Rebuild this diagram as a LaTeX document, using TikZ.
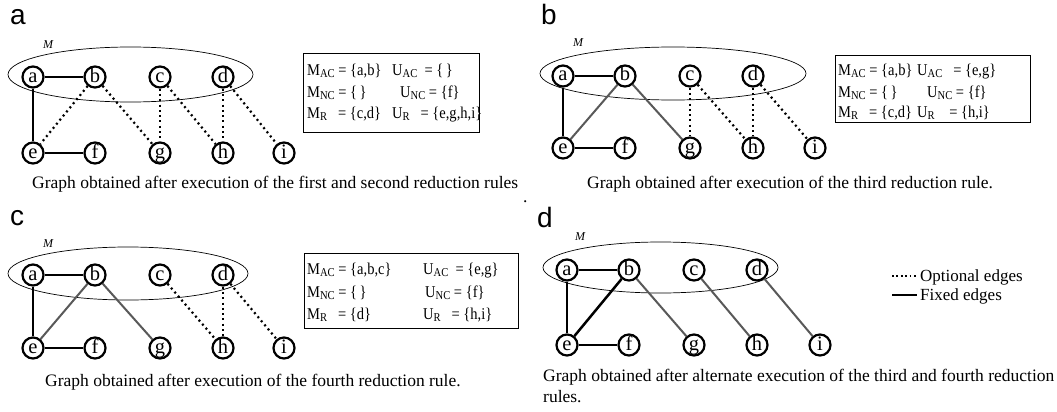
\documentclass[tikz,border=0pt]{standalone}
\usepackage{fontspec}
\setmainfont{Liberation Serif}
\newfontfamily\lsans{Liberation Sans}
\newcommand\sbs[1]{\raisebox{-0.35ex}{\fontsize{12}{12}\selectfont #1}}
\newcommand\sq[1]{\scalebox{0.88}[1]{#1}}
\tikzset{
  vert/.style={circle,draw,fill=white,line width=2.2pt,minimum size=21pt,inner sep=0pt,
    text height=12pt,text depth=2pt,font=\fontsize{20.5}{20.5}\selectfont},
  fixed/.style={line width=2.5pt},
  grayed/.style={line width=2pt,draw=black!65},
  opt/.style={line width=2.2pt,dash pattern=on 2pt off 3.3pt},
  memb/.style={line width=0.7pt},
  plabel/.style={anchor=base west,inner sep=0pt,font=\lsans\fontsize{28}{28}\selectfont},
  mlabel/.style={inner sep=0pt,font=\itshape\fontsize{12}{12}\selectfont},
  captext/.style={anchor=base west,inner sep=0pt,font=\fontsize{17.5}{17.5}\selectfont},
  settext/.style={anchor=base west,inner sep=0pt,font=\fontsize{16.5}{16.5}\selectfont},
  setbox/.style={draw,line width=1pt,inner sep=0pt,anchor=north west},
  legtext/.style={anchor=west,inner sep=0pt,font=\fontsize{17}{17}\selectfont},
}
\newcommand\mkverts[5]{%
  \node[vert] (#1a) at ({#2},{#3}) {a};
  \node[vert] (#1b) at ({#2+62},{#3}) {b};
  \node[vert] (#1c) at ({#2+127},{#3}) {c};
  \node[vert] (#1d) at ({#2+190},{#3}) {d};
  \node[vert] (#1e) at ({#2},{#4}) {e};
  \node[vert] (#1f) at ({#2+62},{#4}) {f};
  \node[vert] (#1g) at ({#2+127},{#4}) {g};
  \node[vert] (#1h) at ({#2+190},{#4}) {h};
  \node[vert] (#1i) at ({#2+#5},{#4}) {i};
}
\begin{document}
\begin{tikzpicture}[x=1pt,y=-1pt]
\useasboundingbox (0,0) rectangle (1057,412);

% ---------- panel a ----------
\node[plabel] (la) at (10,25) {a};
\draw[memb] (130.5,74.5) ellipse [x radius=122.5, y radius=27.5];
\node[mlabel] (Ma) at (48,45) {M};
\mkverts{A}{33}{77}{153}{251}
\draw[fixed] (Aa) -- (Ab);
\draw[fixed] (Aa) -- (Ae);
\draw[fixed] (Ae) -- (Af);
\draw[opt] (Ab) -- (Ae);
\draw[opt] (Ab) -- (Ag);
\draw[opt] (Ac) -- (Ag);
\draw[opt] (Ac) -- (Ah);
\draw[opt] (Ad) -- (Ah);
\draw[opt] (Ad) -- (Ai);
\node[setbox,minimum width=176,minimum height=79] (boxa) at (303,53) {};
\node[settext] (aM1) at (307,75) {\sq{M\sbs{AC} = \{a,b\}}};
\node[settext] (aU1) at (392,75) {\sq{U\sbs{AC} \ = \{\,\}}};
\node[settext] (aM2) at (307,97) {\sq{M\sbs{NC} = \{\,\}}};
\node[settext] (aU2) at (400,97) {\sq{U\sbs{NC} = \{f\}}};
\node[settext] (aM3) at (307,118) {\sq{M\sbs{R} \ \ = \{c,d\}}};
\node[settext] (aU3) at (392,118) {\sq{U\sbs{R} \ \ = \{e,g,h,i\}}};
\node[captext] (capa) at (32,188) {Graph obtained after execution of the first and second reduction rules};
\node[captext] (dot) at (523,202) {.};

% ---------- panel b ----------
\node[plabel] (lb) at (541,25) {b};
\draw[memb] (673,73.5) ellipse [x radius=133, y radius=26.5];
\node[mlabel] (Mb) at (578,43) {M};
\mkverts{B}{563}{76}{148}{252}
\draw[fixed] (Ba) -- (Bb);
\draw[fixed] (Ba) -- (Be);
\draw[fixed] (Be) -- (Bf);
\draw[grayed] (Bb) -- (Be);
\draw[grayed] (Bb) -- (Bg);
\draw[opt] (Bc) -- (Bg);
\draw[opt] (Bc) -- (Bh);
\draw[opt] (Bd) -- (Bh);
\draw[opt] (Bd) -- (Bi);
\node[setbox,minimum width=195,minimum height=67] (boxb) at (835,55) {};
\node[settext] (bM1) at (838,75) {\sq{M\sbs{AC} = \{a,b\}}};
\node[settext] (bU1) at (917,75) {\sq{U\sbs{AC} \ \ = \{e,g\}}};
\node[settext] (bM2) at (838,97) {\sq{M\sbs{NC} = \{\,\}}};
\node[settext] (bU2) at (927,97) {\sq{U\sbs{NC} = \{f\}}};
\node[settext] (bM3) at (838,117) {\sq{M\sbs{R} \ \ = \{c,d\}}};
\node[settext] (bU3) at (917,117) {\sq{U\sbs{R} \ \ \ = \{h,i\}}};
\node[captext] (capb) at (587,188) {Graph obtained after execution of the third reduction rule.};

% ---------- panel c ----------
\node[plabel] (lc) at (10,225) {c};
\draw[memb] (128,273.5) ellipse [x radius=120, y radius=26.5];
\node[mlabel] (Mc) at (48,244) {M};
\mkverts{C}{33}{275}{348}{251}
\draw[fixed] (Ca) -- (Cb);
\draw[fixed] (Ca) -- (Ce);
\draw[fixed] (Ce) -- (Cf);
\draw[grayed] (Cb) -- (Ce);
\draw[grayed] (Cb) -- (Cg);
\draw[opt] (Cc) -- (Ch);
\draw[opt] (Cd) -- (Ch);
\draw[opt] (Cd) -- (Ci);
\node[setbox,minimum width=214,minimum height=75] (boxc) at (304,253) {};
\node[settext] (cM1) at (307,274) {\sq{M\sbs{AC} = \{a,b,c\}}};
\node[settext] (cU1) at (423,274) {\sq{U\sbs{AC} \ = \{e,g\}}};
\node[settext] (cM2) at (307,297) {\sq{M\sbs{NC} = \{\,\}}};
\node[settext] (cU2) at (425,297) {\sq{U\sbs{NC} = \{f\}}};
\node[settext] (cM3) at (307,319) {\sq{M\sbs{R} \ \ = \{d\}}};
\node[settext] (cU3) at (423,319) {\sq{U\sbs{R} \ \ = \{h,i\}}};
\node[captext] (capc) at (45,386) {Graph obtained after execution of the fourth reduction rule.};

% ---------- panel d ----------
\node[plabel] (ld) at (537,227) {d};
\draw[memb] (660.5,267.5) ellipse [x radius=117.5, y radius=25.5];
\node[mlabel] (Md) at (580,237) {M};
\mkverts{D}{567}{270}{345}{253}
\draw[fixed] (Da) -- (Db);
\draw[fixed] (Da) -- (De);
\draw[fixed] (De) -- (Df);
\draw[fixed] (Db) -- (De);
\draw[grayed] (Db) -- (Dg);
\draw[grayed] (Dc) -- (Dh);
\draw[grayed] (Dd) -- (Di);
\node[captext] (capd1) at (543,381) {Graph obtained after alternate execution of the third and fourth reduction};
\node[captext] (capd2) at (543,402) {rules.};

% ---------- legend ----------
\coordinate (lo1) at (892,276);
\coordinate (lo2) at (917,276);
\coordinate (lf1) at (892,295);
\coordinate (lf2) at (917,295);
\draw[opt,line width=1.8pt,dash pattern=on 1.8pt off 2.6pt] (lo1) -- (lo2);
\draw[fixed] (lf1) -- (lf2);
\node[legtext] (lopt) at (920,277) {Optional edges};
\node[legtext] (lfix) at (920,296) {Fixed edges};
\end{tikzpicture}
\end{document}
